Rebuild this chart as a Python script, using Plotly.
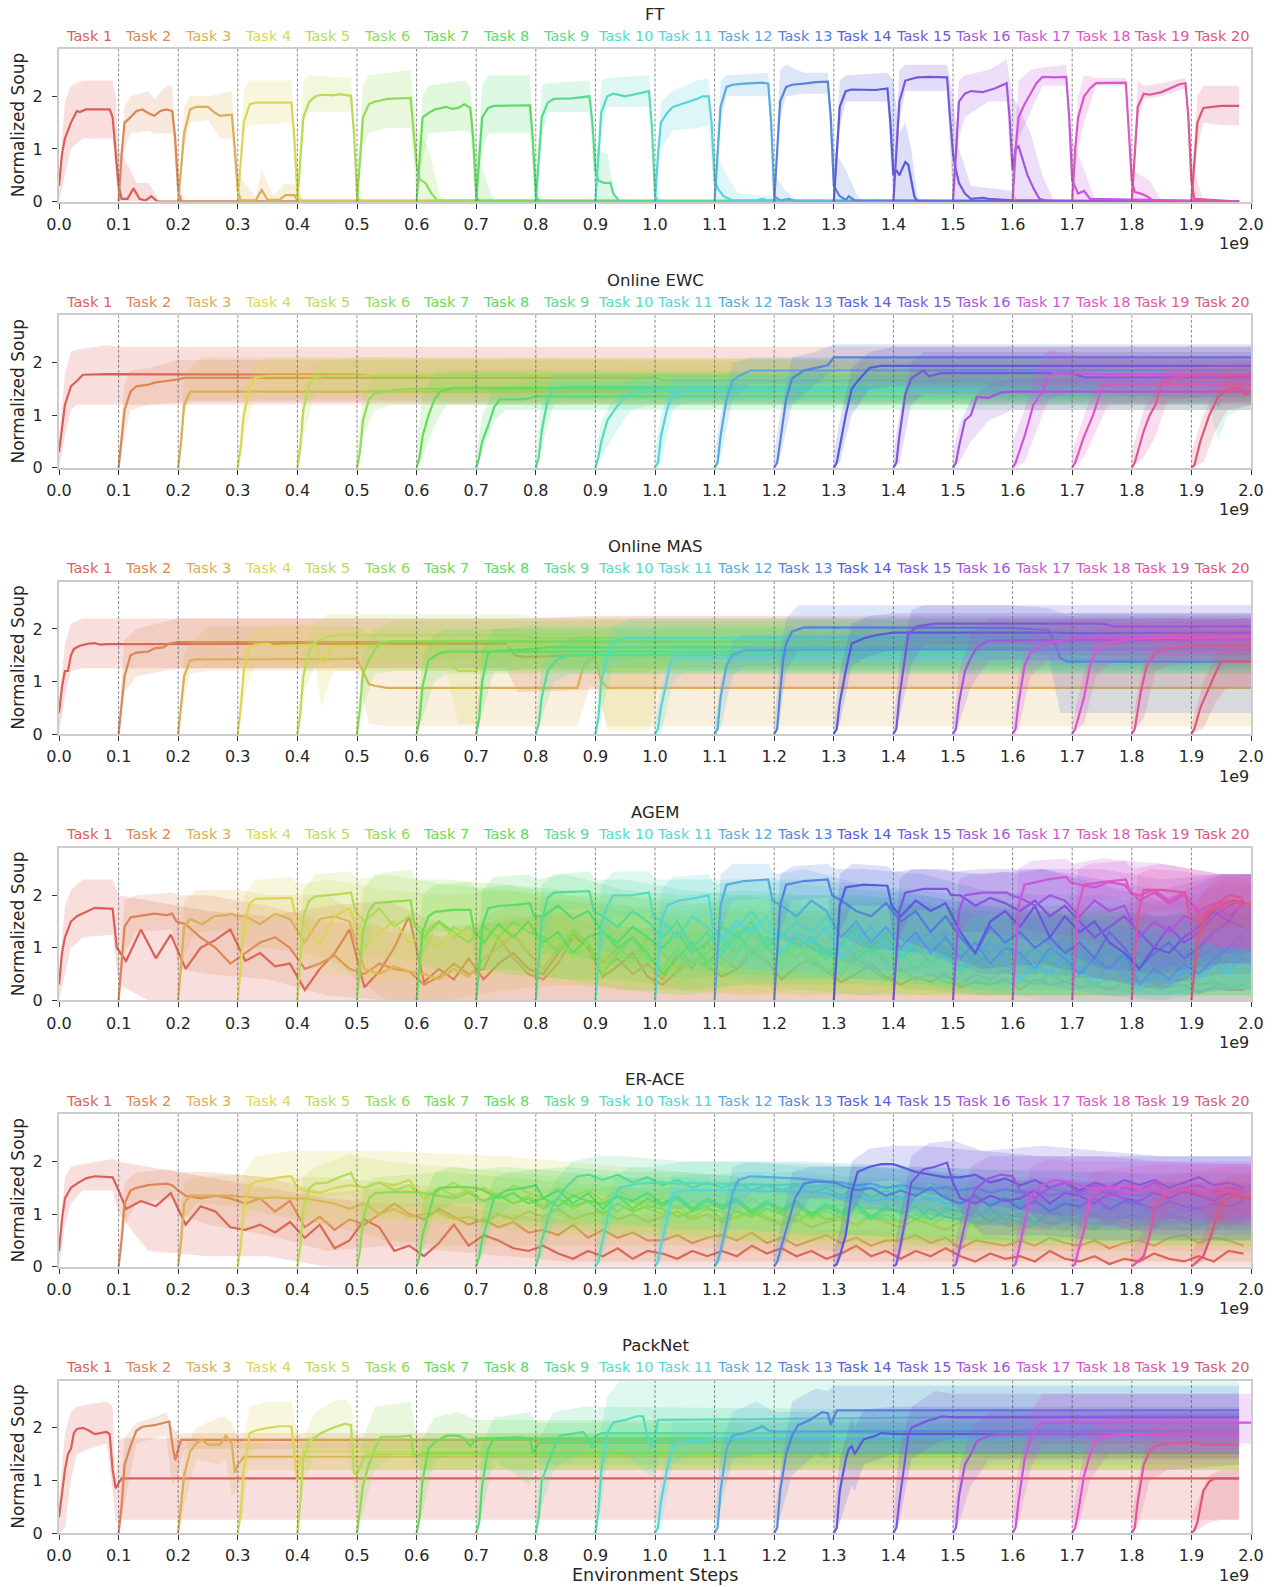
import colorsys
import plotly.graph_objects as go

# ---------------------------------------------------------------- labels
PANEL_TITLES = ["FT", "Online EWC", "Online MAS", "AGEM", "ER-ACE", "PackNet"]
TASK_LABELS = ["Task %d" % i for i in range(1, 21)]
X_TICK_VALUES = [0.0, 0.1, 0.2, 0.3, 0.4, 0.5, 0.6, 0.7, 0.8, 0.9, 1.0,
                 1.1, 1.2, 1.3, 1.4, 1.5, 1.6, 1.7, 1.8, 1.9, 2.0]
X_TICK_LABELS = ["0.0", "0.1", "0.2", "0.3", "0.4", "0.5", "0.6", "0.7", "0.8", "0.9", "1.0",
                 "1.1", "1.2", "1.3", "1.4", "1.5", "1.6", "1.7", "1.8", "1.9", "2.0"]
TASK_BOUNDARIES = [0.1, 0.2, 0.3, 0.4, 0.5, 0.6, 0.7, 0.8, 0.9, 1.0,
                   1.1, 1.2, 1.3, 1.4, 1.5, 1.6, 1.7, 1.8, 1.9]
Y_TICK_VALUES = [0, 1, 2]

# ---------------------------------------------------------------- FT
FT_LINES = [
    [[0,0.3],[0.005,0.9],[0.01,1.2],[0.02,1.5],[0.03,1.72],[0.035,1.7],[0.045,1.75],[0.085,1.75],[0.09,1.6],[0.095,1.0],[0.1,0.3],[0.105,0.05],[0.115,0.05],[0.125,0.25],[0.135,0.05],[0.145,0.02],[0.155,0.1],[0.165,0.0],[1.98,0.0]],
    [[0.1,0],[0.105,0.9],[0.11,1.5],[0.12,1.6],[0.13,1.72],[0.14,1.75],[0.15,1.68],[0.16,1.63],[0.17,1.72],[0.18,1.75],[0.19,1.72],[0.195,1.2],[0.2,0.2],[0.205,0.0],[1.98,0]],
    [[0.2,0],[0.205,0.6],[0.21,1.3],[0.22,1.75],[0.23,1.8],[0.25,1.8],[0.26,1.7],[0.27,1.63],[0.285,1.65],[0.29,1.65],[0.295,1.0],[0.3,0.2],[0.305,0.02],[0.33,0.02],[0.34,0.22],[0.35,0.03],[0.37,0.03],[0.38,0.12],[0.395,0.12],[0.4,0.02],[1.98,0]],
    [[0.3,0],[0.305,0.8],[0.31,1.5],[0.32,1.85],[0.33,1.88],[0.39,1.88],[0.395,1.2],[0.4,0.1],[0.405,0.0],[1.98,0]],
    [[0.4,0],[0.405,0.9],[0.41,1.6],[0.42,1.9],[0.43,2.0],[0.44,2.03],[0.46,2.02],[0.47,2.04],[0.49,2.01],[0.495,1.3],[0.5,0.1],[0.505,0],[1.98,0]],
    [[0.5,0],[0.505,0.8],[0.51,1.6],[0.52,1.85],[0.53,1.9],[0.54,1.92],[0.55,1.95],[0.59,1.97],[0.595,1.4],[0.6,0.7],[0.605,0.42],[0.615,0.35],[0.625,0.15],[0.635,0.02],[1.98,0]],
    [[0.6,0],[0.605,0.8],[0.61,1.6],[0.62,1.68],[0.63,1.75],[0.65,1.8],[0.66,1.76],[0.67,1.78],[0.68,1.85],[0.69,1.78],[0.695,1.2],[0.7,0.1],[0.705,0],[1.98,0]],
    [[0.7,0],[0.705,0.8],[0.71,1.6],[0.72,1.78],[0.73,1.82],[0.79,1.83],[0.795,1.2],[0.8,0.1],[0.805,0],[1.98,0]],
    [[0.8,0],[0.805,0.8],[0.81,1.6],[0.82,1.88],[0.83,1.95],[0.86,1.96],[0.89,2.0],[0.895,1.5],[0.9,0.6],[0.905,0.4],[0.915,0.35],[0.925,0.36],[0.93,0.15],[0.94,0.01],[1.98,0]],
    [[0.9,0],[0.905,0.9],[0.91,1.7],[0.92,2.0],[0.93,2.05],[0.95,2.0],[0.97,2.05],[0.99,2.1],[0.995,1.4],[1.0,0.1],[1.005,0],[1.98,0]],
    [[1.0,0],[1.005,0.9],[1.01,1.5],[1.02,1.68],[1.03,1.8],[1.05,1.87],[1.07,1.95],[1.08,2.0],[1.09,2.0],[1.095,1.5],[1.1,0.4],[1.105,0.25],[1.115,0.1],[1.13,0.02],[1.17,0.02],[1.18,0.05],[1.19,0.02],[1.98,0]],
    [[1.1,0],[1.105,1.0],[1.11,1.8],[1.12,2.18],[1.13,2.22],[1.15,2.24],[1.18,2.26],[1.19,2.24],[1.195,1.5],[1.2,0.1],[1.21,0.02],[1.225,0.05],[1.235,0],[1.98,0]],
    [[1.2,0],[1.205,1.0],[1.21,1.9],[1.22,2.18],[1.23,2.22],[1.25,2.24],[1.27,2.27],[1.29,2.28],[1.295,1.6],[1.3,0.3],[1.31,0.1],[1.32,0.03],[1.325,0.1],[1.335,0.02],[1.98,0]],
    [[1.3,0],[1.305,1.0],[1.31,1.8],[1.32,2.1],[1.33,2.13],[1.37,2.12],[1.39,2.15],[1.395,1.5],[1.4,0.5],[1.405,0.6],[1.41,0.5],[1.42,0.75],[1.425,0.7],[1.435,0.1],[1.44,0],[1.98,0]],
    [[1.4,0],[1.405,1.0],[1.41,1.9],[1.42,2.3],[1.44,2.36],[1.46,2.37],[1.49,2.36],[1.495,1.6],[1.5,0.9],[1.505,0.6],[1.51,0.35],[1.52,0.15],[1.53,0.05],[1.55,0.07],[1.56,0.05],[1.6,0.02],[1.98,0]],
    [[1.5,0],[1.505,1.0],[1.51,1.9],[1.52,2.05],[1.53,2.1],[1.55,2.08],[1.57,2.15],[1.59,2.25],[1.595,1.6],[1.6,0.6],[1.605,1.0],[1.61,1.05],[1.615,0.85],[1.625,0.5],[1.635,0.25],[1.645,0.05],[1.66,0],[1.98,0]],
    [[1.6,0],[1.605,1.0],[1.61,1.6],[1.62,1.85],[1.63,2.05],[1.64,2.25],[1.65,2.37],[1.67,2.36],[1.69,2.37],[1.695,1.6],[1.7,0.4],[1.71,0.15],[1.72,0.2],[1.73,0.05],[1.98,0]],
    [[1.7,0],[1.705,1.0],[1.71,1.6],[1.72,2.0],[1.73,2.15],[1.74,2.25],[1.79,2.26],[1.795,1.4],[1.8,0.4],[1.805,0.18],[1.815,0.15],[1.825,0.1],[1.835,0.02],[1.98,0]],
    [[1.8,0],[1.805,1.0],[1.81,1.8],[1.82,2.05],[1.83,2.03],[1.85,2.08],[1.88,2.23],[1.89,2.25],[1.895,1.6],[1.9,0.4],[1.905,0.05],[1.98,0]],
    [[1.9,0],[1.905,0.8],[1.91,1.5],[1.92,1.78],[1.94,1.8],[1.95,1.82],[1.98,1.82]],
]
FT_BANDS = [
    [[0,0,0.5],[0.01,0.5,1.9],[0.02,1.0,2.2],[0.04,1.2,2.3],[0.09,1.2,2.3],[0.095,0.5,2.0],[0.1,0,1.0],[0.12,0,0.6],[0.13,0,0.35],[0.15,0,0.35],[0.17,0,0]],
    [[0.1,0,0.2],[0.11,1.0,1.8],[0.12,1.3,2.0],[0.15,1.35,2.1],[0.16,1.3,1.95],[0.18,1.3,2.2],[0.19,1.3,2.2],[0.2,0,0.5],[0.21,0,0]],
    [[0.2,0,0.2],[0.21,1.0,1.8],[0.22,1.5,2.0],[0.25,1.55,2.0],[0.27,1.2,2.05],[0.29,1.2,2.1],[0.3,0,0.5],[0.33,0,0.1],[0.34,0,0.6],[0.36,0,0.1],[0.38,0,0.35],[0.4,0,0.3],[0.41,0,0]],
    [[0.3,0,0.2],[0.31,1.3,2.1],[0.32,1.45,2.3],[0.39,1.5,2.3],[0.4,0,0.3],[0.41,0,0]],
    [[0.4,0,0.2],[0.41,1.5,2.3],[0.42,1.7,2.4],[0.49,1.7,2.35],[0.5,0,0.3],[0.51,0,0]],
    [[0.5,0,0.3],[0.51,1.0,2.2],[0.52,1.3,2.4],[0.55,1.4,2.45],[0.59,1.4,2.5],[0.6,0,1.4],[0.62,0,1.0],[0.64,0,0.1],[0.65,0,0]],
    [[0.6,0,0.3],[0.61,0.8,2.0],[0.62,1.3,2.2],[0.68,1.35,2.3],[0.69,1.3,2.2],[0.7,0,1.0],[0.72,0,0.3],[0.73,0,0]],
    [[0.7,0,0.5],[0.71,1.0,2.2],[0.72,1.3,2.4],[0.79,1.3,2.4],[0.8,0,0.5],[0.81,0,0]],
    [[0.8,0,0.3],[0.81,1.2,2.2],[0.82,1.7,2.25],[0.89,1.7,2.3],[0.9,0,1.0],[0.92,0,0.9],[0.93,0,0.3],[0.94,0,0]],
    [[0.9,0,0.3],[0.91,1.4,2.3],[0.92,1.8,2.35],[0.99,1.8,2.4],[1.0,0,0.3],[1.01,0,0]],
    [[1.0,0,0.3],[1.01,1.0,1.9],[1.03,1.35,2.1],[1.07,1.4,2.3],[1.09,1.45,2.35],[1.1,0,1.0],[1.12,0,0.5],[1.14,0,0.15],[1.2,0,0.1],[1.21,0,0]],
    [[1.1,0,0.3],[1.11,1.5,2.3],[1.12,2.0,2.4],[1.19,2.0,2.45],[1.2,0,0.5],[1.22,0,0.2],[1.24,0,0]],
    [[1.2,0,0.3],[1.21,1.6,2.5],[1.22,2.0,2.6],[1.25,2.05,2.45],[1.29,2.05,2.45],[1.3,0,1.0],[1.32,0,0.6],[1.34,0,0.1],[1.35,0,0]],
    [[1.3,0,0.3],[1.31,1.4,2.3],[1.32,1.9,2.4],[1.39,1.9,2.45],[1.4,0,2.3],[1.41,0,1.3],[1.42,0,1.5],[1.43,0,1.0],[1.44,0,0.1],[1.45,0,0]],
    [[1.4,0,0.3],[1.41,1.5,2.5],[1.42,2.1,2.6],[1.49,2.1,2.6],[1.5,0,2.0],[1.51,0,1.0],[1.53,0,0.3],[1.6,0,0.2],[1.61,0,0]],
    [[1.5,0,0.3],[1.51,1.2,2.3],[1.52,1.6,2.4],[1.56,1.9,2.5],[1.59,1.9,2.7],[1.6,0,2.0],[1.61,0,1.8],[1.63,0,1.3],[1.65,0,0.5],[1.67,0,0]],
    [[1.6,0,0.3],[1.61,1.2,2.3],[1.63,1.7,2.5],[1.65,2.2,2.55],[1.69,2.2,2.6],[1.7,0,1.2],[1.72,0,0.6],[1.74,0,0]],
    [[1.7,0,0.3],[1.71,1.0,2.0],[1.72,1.5,2.4],[1.74,2.2,2.35],[1.79,2.2,2.35],[1.8,0,0.6],[1.83,0,0.4],[1.85,0,0]],
    [[1.8,0,0.3],[1.81,1.5,2.3],[1.82,1.95,2.2],[1.85,2.0,2.25],[1.89,2.15,2.35],[1.9,0,0.8],[1.92,0,0]],
    [[1.9,0,0.3],[1.91,1.0,2.0],[1.92,1.5,2.2],[1.95,1.45,2.2],[1.98,1.45,2.2]],
]

# ---------------------------------------------------------------- Online EWC
EWC_LINES = [
    [[0,0.3],[0.005,0.8],[0.01,1.2],[0.02,1.55],[0.03,1.65],[0.04,1.77],[0.08,1.78],[0.5,1.77],[0.52,1.75],[2.0,1.74]],
    [[0.1,0],[0.105,0.5],[0.11,1.1],[0.12,1.45],[0.13,1.55],[0.15,1.58],[0.16,1.62],[0.18,1.65],[0.2,1.68],[0.21,1.71],[1.0,1.71],[1.015,1.66],[2.0,1.66]],
    [[0.2,0],[0.205,0.5],[0.21,1.2],[0.22,1.45],[2.0,1.45]],
    [[0.3,0],[0.305,0.4],[0.31,1.0],[0.32,1.55],[0.33,1.72],[0.35,1.75],[2.0,1.75]],
    [[0.4,0],[0.405,0.4],[0.41,1.1],[0.42,1.6],[0.43,1.72],[0.45,1.75],[2.0,1.76]],
    [[0.5,0],[0.505,0.3],[0.51,0.9],[0.52,1.3],[0.53,1.42],[0.56,1.46],[0.58,1.5],[2.0,1.5]],
    [[0.6,0],[0.605,0.2],[0.61,0.6],[0.62,1.0],[0.63,1.3],[0.64,1.45],[0.66,1.52],[2.0,1.52]],
    [[0.7,0],[0.705,0.2],[0.71,0.5],[0.72,0.8],[0.73,1.15],[0.74,1.3],[0.78,1.3],[0.8,1.36],[2.0,1.36]],
    [[0.8,0],[0.805,0.2],[0.81,0.7],[0.82,1.3],[0.83,1.5],[0.85,1.54],[2.0,1.54]],
    [[0.9,0],[0.905,0.2],[0.91,0.5],[0.92,0.9],[0.935,1.15],[0.95,1.35],[0.97,1.45],[1.0,1.47],[1.93,1.45],[1.945,1.2],[1.955,1.4],[1.97,1.45],[2.0,1.45]],
    [[1.0,0],[1.005,0.1],[1.01,0.6],[1.02,1.1],[1.03,1.4],[1.05,1.47],[2.0,1.47]],
    [[1.1,0],[1.105,0.1],[1.11,0.6],[1.12,1.3],[1.13,1.65],[1.14,1.74],[1.16,1.85],[2.0,1.85]],
    [[1.2,0],[1.205,0.1],[1.21,0.5],[1.22,1.3],[1.23,1.7],[1.25,1.85],[1.27,1.9],[1.29,1.95],[1.3,2.1],[2.0,2.1]],
    [[1.3,0],[1.305,0.1],[1.31,0.4],[1.32,1.0],[1.33,1.5],[1.34,1.65],[1.36,1.9],[1.38,1.94],[2.0,1.94]],
    [[1.4,0],[1.405,0.1],[1.41,0.6],[1.42,1.4],[1.43,1.7],[1.45,1.85],[1.46,1.74],[1.48,1.8],[1.7,1.8],[1.72,1.72],[2.0,1.72]],
    [[1.5,0],[1.505,0.1],[1.51,0.4],[1.52,0.9],[1.53,1.0],[1.54,1.35],[1.56,1.33],[1.58,1.43],[1.6,1.45],[2.0,1.45]],
    [[1.6,0],[1.605,0.1],[1.62,0.6],[1.635,1.2],[1.65,1.45],[1.66,1.75],[1.67,1.8],[1.75,1.78],[2.0,1.78]],
    [[1.7,0],[1.705,0.1],[1.72,0.6],[1.735,1.0],[1.745,1.35],[1.75,1.55],[1.77,1.58],[2.0,1.58]],
    [[1.8,0],[1.805,0.1],[1.82,0.7],[1.83,1.0],[1.84,1.2],[1.85,1.6],[1.87,1.7],[1.9,1.76],[2.0,1.76]],
    [[1.9,0],[1.905,0.05],[1.915,0.5],[1.93,1.0],[1.945,1.35],[1.96,1.5],[1.98,1.52],[1.99,1.38],[2.0,1.48]],
]
EWC_BANDS = [
    [[0,0,0.5],[0.01,0.6,1.8],[0.02,1.1,2.2],[0.03,1.2,2.25],[0.08,1.2,2.33],[0.1,1.2,2.3],[2.0,1.22,2.3]],
    [[0.1,0,0.2],[0.11,0.6,1.6],[0.12,1.1,1.85],[0.15,1.2,1.9],[0.2,1.25,2.05],[2.0,1.25,2.02]],
    [[0.2,0,0.2],[0.21,1.0,1.7],[0.22,1.3,1.9],[0.24,1.3,2.1],[2.0,1.3,2.05]],
    [[0.3,0,0.2],[0.31,0.6,1.5],[0.33,1.4,2.0],[0.35,1.45,2.1],[2.0,1.45,2.05]],
    [[0.4,0,0.2],[0.41,0.6,1.6],[0.43,1.4,2.0],[0.45,1.4,2.05],[0.5,1.4,2.1],[2.0,1.4,2.05]],
    [[0.5,0,0.3],[0.51,0.6,1.4],[0.53,1.1,1.8],[0.56,1.2,1.8],[2.0,1.2,1.8]],
    [[0.6,0,0.4],[0.61,0.2,1.4],[0.63,0.8,1.8],[0.65,1.2,1.85],[2.0,1.2,1.85]],
    [[0.7,0,0.3],[0.71,0.3,1.0],[0.73,0.9,1.5],[0.75,1.1,1.55],[0.8,1.1,1.65],[2.0,1.1,1.65]],
    [[0.8,0,0.3],[0.81,0.4,1.3],[0.83,1.2,1.8],[0.85,1.3,1.8],[2.0,1.3,1.8]],
    [[0.9,0,0.3],[0.91,0.2,0.9],[0.93,0.6,1.3],[0.96,1.1,1.7],[1.0,1.2,1.75],[1.93,1.2,1.75],[1.945,0.5,1.6],[1.96,1.0,1.7],[2.0,1.2,1.7]],
    [[1.0,0,0.3],[1.01,0.1,1.0],[1.03,1.1,1.7],[1.05,1.25,1.7],[2.0,1.25,1.7]],
    [[1.1,0,0.3],[1.11,0.2,1.0],[1.13,1.3,2.0],[1.16,1.6,2.1],[2.0,1.6,2.1]],
    [[1.2,0,0.3],[1.21,0.2,1.0],[1.23,1.2,2.1],[1.27,1.6,2.2],[1.3,1.85,2.35],[2.0,1.85,2.35]],
    [[1.3,0,0.3],[1.31,0.1,0.9],[1.33,1.0,1.9],[1.36,1.5,2.2],[1.4,1.55,2.3],[2.0,1.55,2.3]],
    [[1.4,0,0.3],[1.41,0.1,1.0],[1.43,1.2,2.0],[1.45,1.4,2.2],[2.0,1.35,2.2]],
    [[1.5,0,0.3],[1.51,0.1,0.8],[1.53,0.5,1.3],[1.56,0.9,1.6],[1.6,1.1,1.7],[2.0,1.1,1.75]],
    [[1.6,0,0.5],[1.62,0.1,1.1],[1.64,0.7,1.9],[1.66,1.3,2.25],[1.7,1.45,2.15],[2.0,1.45,2.1]],
    [[1.7,0,0.3],[1.72,0.2,1.0],[1.74,0.7,1.6],[1.76,1.2,1.8],[2.0,1.25,1.85]],
    [[1.8,0,0.3],[1.82,0.2,1.1],[1.84,0.6,1.5],[1.86,1.3,1.9],[2.0,1.4,2.0]],
    [[1.9,0,0.3],[1.92,0.1,1.0],[1.94,0.7,1.5],[1.96,1.1,1.75],[2.0,1.2,1.8]],
]

# ---------------------------------------------------------------- Online MAS
MAS_LINES = [
    [[0,0.4],[0.005,0.9],[0.01,1.2],[0.015,1.2],[0.02,1.5],[0.025,1.62],[0.035,1.68],[0.05,1.72],[0.06,1.73],[0.07,1.7],[0.08,1.71],[0.75,1.72],[0.765,1.5],[0.78,1.47],[0.82,1.48],[0.85,1.5],[2.0,1.52]],
    [[0.1,0],[0.105,0.5],[0.11,1.1],[0.12,1.5],[0.13,1.55],[0.15,1.57],[0.16,1.63],[0.175,1.65],[0.185,1.72],[0.2,1.75],[2.0,1.76]],
    [[0.2,0],[0.205,0.5],[0.21,1.1],[0.22,1.4],[0.23,1.42],[0.5,1.43],[0.51,1.2],[0.52,0.95],[0.53,0.92],[0.55,0.88],[0.87,0.88],[0.88,1.3],[0.89,1.43],[0.9,1.43],[0.91,1.0],[0.92,0.88],[2.0,0.88]],
    [[0.3,0],[0.305,0.5],[0.31,1.2],[0.32,1.65],[0.33,1.7],[0.35,1.72],[0.36,1.68],[0.43,1.7],[0.44,1.4],[0.445,1.35],[0.455,1.6],[0.465,1.68],[0.65,1.68],[0.66,1.3],[0.67,1.2],[0.7,1.2],[0.71,1.45],[0.72,1.68],[0.9,1.7],[0.91,1.35],[0.92,1.2],[0.99,1.2],[1.0,1.55],[1.01,1.68],[2.0,1.7]],
    [[0.4,0],[0.405,0.4],[0.41,1.1],[0.42,1.6],[0.43,1.75],[0.45,1.85],[0.47,1.88],[0.78,1.88],[0.8,1.82],[1.68,1.85],[1.7,1.8],[2.0,1.78]],
    [[0.5,0],[0.505,0.5],[0.51,1.15],[0.52,1.4],[0.53,1.6],[0.54,1.75],[0.56,1.77],[2.0,1.75]],
    [[0.6,0],[0.605,0.3],[0.61,0.9],[0.62,1.4],[0.63,1.48],[0.64,1.55],[0.66,1.57],[2.0,1.57]],
    [[0.7,0],[0.705,0.3],[0.71,1.0],[0.72,1.55],[0.73,1.58],[0.8,1.62],[0.82,1.65],[2.0,1.65]],
    [[0.8,0],[0.805,0.2],[0.81,0.7],[0.82,1.2],[0.83,1.35],[0.84,1.45],[0.86,1.5],[2.0,1.52]],
    [[0.9,0],[0.905,0.3],[0.91,1.0],[0.92,1.5],[0.93,1.7],[0.94,1.8],[0.96,1.83],[2.0,1.85]],
    [[1.0,0],[1.005,0.1],[1.01,0.5],[1.02,1.0],[1.025,1.3],[1.03,1.43],[1.05,1.45],[1.6,1.45],[1.65,1.43],[2.0,1.43]],
    [[1.1,0],[1.105,0.1],[1.11,0.7],[1.12,1.3],[1.13,1.5],[1.15,1.6],[2.0,1.6]],
    [[1.2,0],[1.205,0.1],[1.21,0.8],[1.215,1.4],[1.22,1.72],[1.23,1.95],[1.25,2.03],[1.6,2.02],[1.66,1.98],[1.67,1.75],[1.68,1.45],[1.69,1.38],[2.0,1.38]],
    [[1.3,0],[1.305,0.1],[1.31,0.6],[1.32,1.2],[1.33,1.72],[1.35,1.82],[1.37,1.88],[1.4,1.93],[1.67,1.93],[1.7,1.92],[2.0,1.93]],
    [[1.4,0],[1.405,0.1],[1.41,0.7],[1.42,1.5],[1.425,1.9],[1.44,2.05],[1.47,2.1],[1.75,2.1],[1.77,2.05],[2.0,2.05]],
    [[1.5,0],[1.505,0.1],[1.51,0.6],[1.52,1.2],[1.53,1.45],[1.54,1.65],[1.56,1.78],[2.0,1.8]],
    [[1.6,0],[1.605,0.1],[1.61,0.6],[1.62,1.3],[1.63,1.55],[1.65,1.68],[1.67,1.75],[1.7,1.83],[2.0,1.85]],
    [[1.7,0],[1.705,0.1],[1.72,0.7],[1.73,1.3],[1.74,1.6],[1.76,1.72],[1.8,1.82],[2.0,1.85]],
    [[1.8,0],[1.805,0.1],[1.815,0.8],[1.825,1.3],[1.84,1.55],[1.86,1.63],[1.9,1.68],[2.0,1.68]],
    [[1.9,0],[1.905,0.1],[1.915,0.5],[1.93,0.9],[1.94,1.15],[1.95,1.38],[2.0,1.38]],
]
MAS_BANDS = [
    [[0,0,0.6],[0.01,0.7,1.7],[0.02,1.2,2.1],[0.04,1.25,2.2],[0.75,1.25,2.2],[0.77,0.8,2.2],[0.9,0.85,2.25],[2.0,0.9,2.25]],
    [[0.1,0,0.2],[0.11,0.8,1.8],[0.13,1.1,2.0],[0.2,1.25,2.2],[2.0,1.25,2.2]],
    [[0.2,0,0.2],[0.21,0.7,1.5],[0.22,1.15,1.7],[0.25,1.2,2.05],[0.5,1.2,2.05],[0.52,0.2,1.9],[0.55,0.15,1.7],[0.87,0.15,1.7],[0.89,0.9,1.9],[0.9,0.9,1.9],[0.92,0.15,1.7],[2.0,0.15,1.7]],
    [[0.3,0,0.2],[0.31,0.7,1.6],[0.33,1.35,2.05],[0.43,1.35,2.1],[0.44,0.5,2.0],[0.46,1.2,2.0],[0.65,1.2,2.0],[0.67,0.2,1.8],[0.7,0.2,1.8],[0.72,1.2,2.0],[0.9,1.2,2.0],[0.92,0.05,1.8],[0.99,0.05,1.8],[1.01,1.2,2.1],[2.0,1.25,2.1]],
    [[0.4,0,0.2],[0.41,0.8,1.6],[0.43,1.3,2.1],[0.45,1.4,2.28],[0.78,1.4,2.28],[0.8,1.4,2.2],[2.0,1.4,2.2]],
    [[0.5,0,0.2],[0.51,0.5,1.6],[0.53,1.15,2.0],[0.56,1.2,2.15],[2.0,1.2,2.15]],
    [[0.6,0,0.2],[0.61,0.3,1.5],[0.63,1.0,1.9],[0.65,1.15,2.0],[2.0,1.15,2.0]],
    [[0.7,0,0.2],[0.71,0.4,1.6],[0.73,1.2,2.0],[0.8,1.25,2.05],[2.0,1.25,2.05]],
    [[0.8,0,0.2],[0.81,0.3,1.3],[0.83,1.0,1.7],[0.86,1.15,1.85],[2.0,1.15,1.9]],
    [[0.9,0,0.2],[0.91,0.4,1.5],[0.93,1.3,2.05],[0.96,1.45,2.2],[2.0,1.45,2.2]],
    [[1.0,0,0.2],[1.01,0.0,0.9],[1.03,1.0,1.7],[1.05,1.2,1.7],[2.0,1.2,1.7]],
    [[1.1,0,0.2],[1.11,0.1,1.0],[1.13,1.1,1.8],[1.15,1.3,1.9],[2.0,1.3,1.9]],
    [[1.2,0,0.2],[1.21,0.3,1.5],[1.22,1.2,2.2],[1.24,1.6,2.45],[1.6,1.6,2.45],[1.66,1.5,2.4],[1.68,0.4,2.3],[2.0,0.4,2.3]],
    [[1.3,0,0.2],[1.31,0.2,1.2],[1.33,1.3,2.1],[1.36,1.5,2.25],[1.4,1.6,2.3],[2.0,1.6,2.3]],
    [[1.4,0,0.2],[1.41,0.3,1.3],[1.43,1.3,2.35],[1.45,1.7,2.45],[2.0,1.7,2.45]],
    [[1.5,0,0.2],[1.51,0.2,1.2],[1.53,0.9,1.9],[1.56,1.4,2.2],[2.0,1.4,2.2]],
    [[1.6,0,0.2],[1.61,0.1,1.1],[1.63,1.1,2.0],[1.66,1.4,2.1],[1.7,1.5,2.2],[2.0,1.5,2.2]],
    [[1.7,0,0.2],[1.72,0.2,1.2],[1.74,1.1,2.0],[1.77,1.4,2.1],[2.0,1.5,2.2]],
    [[1.8,0,0.2],[1.82,0.3,1.4],[1.84,1.2,1.9],[1.87,1.35,2.0],[2.0,1.4,2.0]],
    [[1.9,0,0.2],[1.92,0.1,1.0],[1.94,0.6,1.5],[1.96,0.9,1.7],[2.0,0.9,1.75]],
]

# ---------------------------------------------------------------- AGEM
AGEM_TRAIN = [
    [[0,0.3],[0.005,0.9],[0.01,1.2],[0.02,1.5],[0.03,1.6],[0.045,1.68],[0.06,1.76],[0.09,1.74],[0.097,1.0]],
    [[0.1,0],[0.105,0.8],[0.11,1.4],[0.12,1.58],[0.14,1.62],[0.16,1.65],[0.18,1.62],[0.19,1.65],[0.197,1.5]],
    [[0.2,0],[0.205,0.8],[0.21,1.4],[0.22,1.55],[0.24,1.45],[0.26,1.6],[0.28,1.62],[0.29,1.65],[0.297,1.6]],
    [[0.3,0],[0.305,0.6],[0.31,1.4],[0.32,1.85],[0.33,1.93],[0.39,1.95],[0.397,1.6]],
    [[0.4,0],[0.405,0.8],[0.41,1.6],[0.42,1.9],[0.43,1.98],[0.47,2.02],[0.49,2.05],[0.497,1.7]],
    [[0.5,0],[0.505,0.6],[0.51,1.3],[0.52,1.7],[0.53,1.85],[0.56,1.88],[0.59,1.9],[0.597,1.4]],
    [[0.6,0],[0.605,0.6],[0.61,1.3],[0.62,1.6],[0.63,1.68],[0.66,1.72],[0.69,1.72],[0.697,1.3]],
    [[0.7,0],[0.705,0.6],[0.71,1.4],[0.72,1.75],[0.74,1.8],[0.77,1.82],[0.79,1.85],[0.797,1.6]],
    [[0.8,0],[0.805,0.7],[0.81,1.5],[0.82,1.95],[0.83,2.05],[0.89,2.08],[0.897,1.7]],
    [[0.9,0],[0.905,0.8],[0.91,1.45],[0.92,1.8],[0.93,2.0],[0.96,2.0],[0.99,2.05],[0.997,1.6]],
    [[1.0,0],[1.005,0.8],[1.01,1.5],[1.02,1.8],[1.04,1.9],[1.07,1.95],[1.09,2.0],[1.097,1.4]],
    [[1.1,0],[1.105,0.9],[1.11,1.8],[1.12,2.2],[1.15,2.27],[1.19,2.3],[1.197,1.9]],
    [[1.2,0],[1.205,0.9],[1.21,1.8],[1.22,2.2],[1.25,2.27],[1.29,2.3],[1.297,2.0]],
    [[1.3,0],[1.305,0.9],[1.31,1.8],[1.32,2.15],[1.35,2.2],[1.39,2.18],[1.397,1.8]],
    [[1.4,0],[1.405,0.9],[1.41,1.7],[1.42,2.05],[1.45,2.12],[1.49,2.12],[1.497,2.0]],
    [[1.5,0],[1.505,0.9],[1.51,1.7],[1.52,2.0],[1.55,2.05],[1.59,2.05],[1.597,2.0]],
    [[1.6,0],[1.605,0.9],[1.61,1.8],[1.62,2.2],[1.66,2.3],[1.69,2.35],[1.697,2.25]],
    [[1.7,0],[1.705,0.9],[1.71,1.8],[1.72,2.2],[1.75,2.25],[1.79,2.3],[1.797,2.05]],
    [[1.8,0],[1.805,0.8],[1.81,1.6],[1.82,2.1],[1.85,2.1],[1.89,2.05],[1.897,1.6]],
    [[1.9,0],[1.905,0.5],[1.91,1.1],[1.92,1.5],[1.93,1.7],[1.95,1.8],[1.97,1.9],[2.0,1.82]],
]
# values after each task's own window, every 0.025e9 from 0.0125e9 after it ends
AGEM_TAIL = [
    [0.75,1.35,0.8,1.25, 0.6,1.0,1.15,1.35, 0.75,0.9,0.65,0.7, 0.2,0.6,0.9,1.35, 0.25,0.55,1.0,1.6, 0.35,0.6,0.4,0.8,
     0.4,0.7,0.9,0.6, 0.5,0.9,1.25,1.0, 0.45,0.65,0.9,0.45, 0.3,0.55,0.8,0.65, 0.45,0.6,0.9,0.75, 0.4,0.65,0.8,0.55,
     0.35,0.5,0.7,0.45, 0.3,0.45,0.35,0.5, 0.25,0.35,0.3,0.4, 0.2,0.4,0.3,0.35, 0.25,0.3,0.2,0.35, 0.2,0.3,0.25,0.3, 0.15,0.25,0.2,0.2],
    [1.45,1.2,1.0,0.7, 0.9,1.1,1.2,1.0, 0.6,0.7,0.85,0.6, 0.5,0.7,0.6,0.55, 0.3,0.45,0.7,0.5, 0.6,1.2,0.8,0.5,
     0.4,0.7,1.2,0.9, 0.6,0.8,0.5,0.7, 0.4,0.9,0.6,1.1, 0.8,0.6,1.0,0.7, 0.9,1.1,0.7,0.6, 0.5,0.8,0.6,0.4,
     0.6,0.4,0.5,0.35, 0.3,0.5,0.4,0.6, 0.4,0.3,0.5,0.35, 0.45,0.3,0.4,0.5, 0.3,0.45,0.35,0.4, 0.3,0.35,0.25,0.3],
    [1.6,1.45,1.65,1.55, 1.1,1.55,1.6,1.5, 0.6,0.5,0.65,0.55, 0.5,0.4,0.6,0.45, 0.8,1.0,1.25,0.9, 0.6,1.0,1.35,1.1,
     0.7,1.0,0.8,1.2, 0.9,0.6,1.0,0.8, 0.7,1.1,0.9,1.2, 1.0,0.8,1.1,0.9, 0.7,1.0,1.2,0.8, 0.9,1.2,0.7,1.0,
     0.6,0.9,1.1,0.8, 0.7,1.0,0.8,1.2, 1.0,0.7,0.9,0.6, 0.8,1.1,0.9,0.7, 1.0,0.8,1.1,1.2],
    [1.45,1.05,1.6,1.75, 1.0,1.3,1.5,1.1, 1.2,1.0,1.4,1.2, 1.3,1.1,1.45,1.3, 1.1,1.5,1.2,0.9, 0.8,1.2,1.4,1.0,
     1.2,0.9,1.3,0.8, 0.5,0.9,1.1,0.8, 0.6,1.0,0.8,0.7, 0.9,1.2,0.8,1.1, 0.7,0.9,1.1,0.8, 1.0,0.7,1.2,0.9,
     0.8,1.1,0.9,1.3, 1.0,1.2,0.8,1.0, 0.9,1.3,1.1,0.8, 1.0,1.2,1.4,1.1],
    [1.5,1.75,1.4,1.6, 1.3,1.5,1.2,1.4, 1.1,1.4,1.2,1.5, 1.0,1.2,0.8,1.1, 0.6,0.9,0.7,1.0, 0.7,0.5,0.8,0.6,
     0.9,1.2,0.8,1.0, 0.7,1.0,0.9,0.6, 0.8,0.6,1.0,0.7, 0.5,0.8,0.6,0.9, 0.7,0.5,0.8,0.6, 0.9,0.6,0.7,1.0,
     0.6,0.8,1.1,0.7, 0.9,0.6,0.8,1.0, 0.7,0.9,0.6,0.8],
    [1.2,1.5,1.3,1.1, 1.4,1.2,1.5,1.3, 1.2,0.9,1.3,1.1, 0.5,0.9,1.2,0.8, 0.6,1.0,0.7,0.9, 1.2,0.9,1.3,1.0,
     0.8,1.1,0.7,1.0, 0.6,0.9,1.1,0.7, 0.9,0.6,0.8,1.0, 0.5,0.8,0.6,0.9, 0.7,1.0,0.8,0.5, 0.8,0.6,0.9,0.7,
     0.5,0.8,0.6,0.9, 0.7,0.5,0.8,0.9],
    [1.1,1.45,1.2,1.5, 1.1,1.3,0.9,1.2, 1.3,1.0,1.2,0.9, 0.5,0.8,1.1,0.7, 1.0,1.3,0.9,1.2, 0.9,1.2,1.0,0.8,
     1.1,0.8,1.0,1.3, 0.8,1.0,0.7,0.9, 0.6,0.9,0.7,1.0, 0.8,0.5,0.9,0.7, 1.0,0.7,0.6,0.9, 0.7,1.0,0.8,0.6,
     0.9,0.7,1.0,0.8],
    [1.6,1.8,1.55,1.7, 1.3,1.1,1.4,1.2, 1.0,1.3,0.9,1.1, 1.4,1.2,1.5,1.0, 1.3,1.0,1.2,0.9, 1.1,1.4,1.0,1.2,
     0.9,1.2,1.0,0.8, 1.0,0.7,0.9,1.1, 0.8,1.0,0.7,0.6, 0.9,0.7,1.0,0.8, 0.6,0.9,0.7,1.0, 0.8,1.0,0.9,1.2],
    [1.6,1.4,1.7,1.5, 1.2,1.5,1.0,1.3, 0.9,1.2,1.4,1.1, 1.3,1.0,1.2,0.8, 1.0,1.3,0.9,1.1, 0.8,1.1,1.3,0.9,
     0.6,0.9,0.7,1.0, 0.8,0.6,0.9,0.7, 0.5,0.8,1.0,0.7, 0.9,0.6,0.8,0.5, 0.7,0.9,0.6,0.8],
    [1.5,1.2,1.6,1.4, 1.1,1.4,1.7,1.3, 1.2,1.5,1.3,1.6, 1.0,1.3,1.1,1.4, 1.2,0.9,1.1,1.3, 0.8,1.1,0.9,1.2,
     0.7,1.0,0.8,1.1, 0.9,0.6,1.0,0.8, 0.5,0.8,0.6,0.9, 0.8,1.1,0.9,1.0],
    [1.2,1.5,1.3,1.6, 0.9,1.3,1.1,1.4, 0.8,1.1,1.4,1.0, 0.9,1.2,1.0,0.8, 0.6,0.9,1.1,0.7, 0.4,0.7,0.5,0.9,
     0.6,0.3,0.7,0.5, 0.2,0.5,0.3,0.6, 0.4,0.7,0.5,1.2],
    [1.8,1.6,1.9,1.7, 1.2,1.5,1.1,1.4, 1.0,1.3,0.9,1.2, 0.8,1.1,0.7,1.0, 0.9,0.6,1.0,0.8, 0.5,0.8,0.6,0.9,
     0.3,0.6,0.4,0.7, 0.5,0.8,1.0,1.3],
    [1.9,1.7,1.6,1.85, 1.5,1.7,1.3,1.6, 1.2,0.9,1.4,1.1, 1.3,1.0,1.2,0.9, 1.1,0.8,1.3,1.0, 0.6,0.9,1.1,0.8,
     1.0,1.3,1.5,1.4],
    [1.6,1.9,1.7,1.85, 1.3,0.9,1.5,1.7, 1.4,1.8,1.2,1.6, 1.3,1.5,1.1,0.9, 0.6,1.0,0.9,1.2, 1.4,1.7,1.5,1.9],
    [2.0,1.8,1.95,1.85, 1.7,1.9,1.6,1.8, 1.5,1.2,1.4,1.6, 1.3,1.0,1.4,1.1, 1.3,1.6,1.8,1.9],
    [1.95,1.8,2.0,1.9, 1.6,1.9,1.7,1.8, 1.2,1.5,1.3,1.6, 1.5,1.8,1.6,1.85],
    [2.2,2.15,2.25,2.2, 1.9,2.05,1.85,2.0, 1.7,1.85,1.75,1.8],
    [2.0,2.1,1.9,2.05, 1.6,1.8,1.9,1.85],
    [1.5,1.8,2.0,1.95],
    [],
]
AGEM_TRAIN_BANDS = [
    [[0,0,0.5],[0.01,0.5,1.8],[0.02,1.0,2.1],[0.04,1.2,2.3],[0.09,1.25,2.3],[0.1,0.3,2.0]],
    [[0.1,0,0.3],[0.11,0.9,1.9],[0.13,1.3,2.0],[0.19,1.35,2.05],[0.2,0.6,2.0]],
    [[0.2,0,0.3],[0.21,0.9,1.9],[0.23,1.3,2.1],[0.29,1.35,2.1],[0.3,1.0,2.1]],
    [[0.3,0,0.3],[0.31,1.0,2.0],[0.33,1.6,2.3],[0.39,1.6,2.35],[0.4,0.8,2.2]],
    [[0.4,0,0.3],[0.41,1.0,2.1],[0.43,1.6,2.4],[0.49,1.6,2.45],[0.5,0.9,2.3]],
    [[0.5,0,0.3],[0.51,0.8,2.1],[0.53,1.4,2.4],[0.59,1.5,2.5],[0.6,0.7,2.3]],
    [[0.6,0,0.3],[0.61,0.8,2.0],[0.63,1.3,2.2],[0.69,1.35,2.25],[0.7,0.6,2.1]],
    [[0.7,0,0.3],[0.71,0.9,2.1],[0.73,1.4,2.35],[0.79,1.45,2.4],[0.8,0.9,2.3]],
    [[0.8,0,0.3],[0.81,1.0,2.2],[0.83,1.7,2.4],[0.89,1.75,2.45],[0.9,1.0,2.3]],
    [[0.9,0,0.3],[0.91,1.0,2.2],[0.93,1.6,2.45],[0.99,1.65,2.45],[1.0,0.9,2.3]],
    [[1.0,0,0.3],[1.01,1.0,2.1],[1.03,1.5,2.35],[1.09,1.6,2.4],[1.1,0.8,2.2]],
    [[1.1,0,0.3],[1.11,1.3,2.4],[1.13,1.9,2.6],[1.19,1.95,2.6],[1.2,1.2,2.4]],
    [[1.2,0,0.3],[1.21,1.3,2.4],[1.23,1.9,2.55],[1.29,1.95,2.6],[1.3,1.3,2.5]],
    [[1.3,0,0.3],[1.31,1.3,2.4],[1.33,1.8,2.6],[1.39,1.8,2.55],[1.4,1.2,2.45]],
    [[1.4,0,0.3],[1.41,1.2,2.3],[1.43,1.7,2.5],[1.49,1.75,2.5],[1.5,1.3,2.45]],
    [[1.5,0,0.3],[1.51,1.2,2.3],[1.53,1.6,2.4],[1.59,1.65,2.45],[1.6,1.4,2.4]],
    [[1.6,0,0.3],[1.61,1.3,2.5],[1.63,1.9,2.65],[1.69,2.0,2.7],[1.7,1.7,2.6]],
    [[1.7,0,0.3],[1.71,1.3,2.5],[1.73,1.9,2.6],[1.79,1.95,2.65],[1.8,1.5,2.5]],
    [[1.8,0,0.3],[1.81,1.2,2.4],[1.83,1.7,2.5],[1.89,1.7,2.45],[1.9,1.2,2.4]],
    [[1.9,0,0.3],[1.91,0.7,1.9],[1.93,1.3,2.2],[1.96,1.4,2.35],[2.0,1.35,2.3]],
]
# [low, high] every 0.1e9 starting 0.05e9 after each task's own window
AGEM_TAIL_BANDS = [
    [[0.0,1.9],[0.0,1.7],[0.0,1.6],[0.0,1.8],[0.0,1.9],[0.0,1.4],[0.0,1.5],[0.0,1.7],[0.0,1.4],[0.0,1.3],[0,1.4],[0,1.2],[0,1.1],[0,0.9],[0,0.8],[0,0.8],[0,0.7],[0,0.7],[0,0.6]],
    [[0.5,2.0],[0.4,1.8],[0.1,1.5],[0.0,1.4],[0.0,1.2],[0.0,1.6],[0.0,1.6],[0,1.3],[0,1.5],[0,1.5],[0,1.6],[0,1.3],[0,1.1],[0,1.0],[0,0.9],[0,0.9],[0,0.8],[0,0.8]],
    [[1.0,2.0],[0.8,2.0],[0.0,1.3],[0.0,1.2],[0.2,1.8],[0.3,1.9],[0.2,1.8],[0.2,1.6],[0.1,1.7],[0.2,1.7],[0.1,1.7],[0.2,1.8],[0.1,1.6],[0.1,1.7],[0.1,1.6],[0.1,1.6],[0.2,1.8]],
    [[0.5,2.3],[0.4,2.1],[0.4,2.0],[0.5,2.1],[0.3,2.0],[0.3,2.0],[0.2,1.9],[0.1,1.7],[0.1,1.7],[0.2,1.8],[0.1,1.8],[0.2,1.8],[0.2,1.8],[0.2,1.8],[0.2,1.9],[0.3,1.9]],
    [[0.8,2.4],[0.7,2.2],[0.6,2.1],[0.4,1.9],[0.2,1.7],[0.1,1.5],[0.2,1.8],[0.1,1.7],[0.1,1.6],[0.1,1.5],[0.1,1.5],[0.1,1.6],[0.1,1.6],[0.1,1.6],[0.1,1.6]],
    [[0.5,2.3],[0.6,2.2],[0.4,2.0],[0.2,1.8],[0.1,1.7],[0.3,2.0],[0.2,1.8],[0.1,1.7],[0.1,1.7],[0.1,1.6],[0.1,1.6],[0.1,1.6],[0.1,1.6],[0.1,1.6]],
    [[0.5,2.2],[0.4,2.1],[0.4,2.0],[0.2,1.8],[0.3,2.0],[0.3,1.9],[0.3,1.9],[0.2,1.8],[0.1,1.7],[0.1,1.6],[0.1,1.7],[0.1,1.6],[0.1,1.7]],
    [[0.9,2.4],[0.6,2.1],[0.4,2.0],[0.5,2.1],[0.4,2.0],[0.4,2.0],[0.3,1.8],[0.2,1.7],[0.2,1.7],[0.2,1.7],[0.1,1.6],[0.2,1.8]],
    [[0.8,2.3],[0.6,2.1],[0.4,2.0],[0.4,2.0],[0.4,2.0],[0.3,1.9],[0.1,1.6],[0.1,1.6],[0.1,1.6],[0.1,1.6],[0.1,1.6]],
    [[0.7,2.3],[0.6,2.3],[0.6,2.3],[0.5,2.2],[0.4,2.1],[0.3,1.9],[0.2,1.8],[0.2,1.8],[0.1,1.6],[0.2,1.8]],
    [[0.6,2.3],[0.5,2.2],[0.4,2.1],[0.4,2.0],[0.2,1.8],[0.0,1.6],[0.0,1.4],[0.0,1.2],[0.0,1.6]],
    [[1.0,2.5],[0.6,2.2],[0.5,2.0],[0.3,1.8],[0.3,1.7],[0.1,1.5],[0.0,1.3],[0.2,1.8]],
    [[1.0,2.5],[0.9,2.4],[0.5,2.1],[0.5,2.0],[0.4,2.0],[0.3,1.8],[0.5,2.2]],
    [[1.0,2.5],[0.6,2.4],[0.7,2.5],[0.4,2.2],[0.2,1.9],[0.7,2.4]],
    [[1.3,2.5],[1.1,2.5],[0.6,2.3],[0.5,2.1],[0.7,2.4]],
    [[1.3,2.5],[1.1,2.5],[0.6,2.3],[0.9,2.4]],
    [[1.6,2.7],[1.2,2.6],[1.0,2.4]],
    [[1.4,2.6],[1.0,2.4]],
    [[1.0,2.4]],
    [],
]

# ---------------------------------------------------------------- ER-ACE
ER_TRAIN = [
    [[0,0.3],[0.005,0.9],[0.01,1.3],[0.02,1.5],[0.03,1.58],[0.045,1.68],[0.06,1.72],[0.09,1.7],[0.1,1.45]],
    [[0.1,0],[0.105,0.5],[0.11,1.2],[0.12,1.45],[0.13,1.5],[0.15,1.55],[0.18,1.58],[0.19,1.55],[0.2,1.45]],
    [[0.2,0],[0.205,0.5],[0.21,1.2],[0.22,1.35],[0.25,1.35],[0.29,1.35],[0.3,1.33]],
    [[0.3,0],[0.305,0.4],[0.31,1.1],[0.32,1.55],[0.33,1.62],[0.35,1.65],[0.37,1.7],[0.39,1.72],[0.4,1.5]],
    [[0.4,0],[0.405,0.4],[0.41,1.1],[0.42,1.5],[0.43,1.58],[0.45,1.6],[0.47,1.7],[0.49,1.78],[0.5,1.55]],
    [[0.5,0],[0.505,0.3],[0.51,0.9],[0.52,1.3],[0.53,1.4],[0.56,1.42],[0.6,1.42]],
    [[0.6,0],[0.605,0.2],[0.61,0.6],[0.62,1.0],[0.63,1.4],[0.64,1.5],[0.67,1.52],[0.7,1.5]],
    [[0.7,0],[0.705,0.2],[0.71,0.5],[0.72,0.9],[0.73,1.3],[0.75,1.45],[0.78,1.5],[0.8,1.55]],
    [[0.8,0],[0.805,0.2],[0.81,0.5],[0.82,0.9],[0.83,1.2],[0.85,1.5],[0.87,1.72],[0.89,1.75],[0.9,1.7]],
    [[0.9,0],[0.905,0.1],[0.91,0.4],[0.92,0.9],[0.93,1.3],[0.94,1.5],[0.97,1.58],[1.0,1.6]],
    [[1.0,0],[1.005,0.1],[1.01,0.4],[1.02,0.9],[1.03,1.4],[1.05,1.45],[1.1,1.45]],
    [[1.1,0],[1.105,0.1],[1.11,0.3],[1.12,0.8],[1.13,1.4],[1.14,1.65],[1.16,1.72],[1.2,1.7]],
    [[1.2,0],[1.205,0.1],[1.21,0.3],[1.22,0.7],[1.235,1.3],[1.25,1.58],[1.27,1.62],[1.3,1.6]],
    [[1.3,0],[1.305,0.05],[1.31,0.2],[1.32,0.6],[1.33,1.4],[1.34,1.8],[1.36,1.9],[1.38,1.95],[1.4,1.95]],
    [[1.4,0],[1.405,0.05],[1.41,0.3],[1.42,0.9],[1.43,1.6],[1.45,1.85],[1.47,1.9],[1.49,1.98],[1.5,1.6]],
    [[1.5,0],[1.505,0.05],[1.51,0.3],[1.52,0.8],[1.53,1.3],[1.54,1.5],[1.56,1.68],[1.58,1.75],[1.6,1.72]],
    [[1.6,0],[1.605,0.05],[1.61,0.3],[1.62,0.8],[1.63,1.35],[1.65,1.55],[1.67,1.65],[1.7,1.6]],
    [[1.7,0],[1.705,0.05],[1.71,0.3],[1.72,0.7],[1.73,1.3],[1.75,1.5],[1.78,1.52],[1.8,1.55]],
    [[1.8,0],[1.805,0.05],[1.82,0.2],[1.83,0.6],[1.84,1.2],[1.86,1.4],[1.88,1.45],[1.9,1.45]],
    [[1.9,0],[1.905,0.05],[1.92,0.2],[1.93,0.5],[1.95,1.2],[1.97,1.35],[2.0,1.3]],
]
ER_TAIL = [
    [1.1,1.25,1.15,1.4, 0.8,1.15,1.05,0.75, 0.7,0.8,0.65,0.85, 0.55,0.8,0.35,0.5, 0.9,0.75,0.3,0.4, 0.2,0.45,0.8,0.4,
     0.6,0.5,0.35,0.3, 0.4,0.25,0.15,0.3, 0.2,0.35,0.15,0.3, 0.25,0.15,0.3,0.2, 0.3,0.2,0.4,0.25, 0.35,0.2,0.3,0.15,
     0.25,0.4,0.2,0.3, 0.15,0.3,0.2,0.35, 0.2,0.1,0.25,0.15, 0.2,0.1,0.3,0.15, 0.1,0.2,0.05,0.15, 0.1,0.25,0.15,0.1, 0.2,0.1,0.3,0.25],
    [1.35,1.3,1.35,1.3, 1.2,1.3,1.05,1.25, 0.75,0.95,0.7,0.9, 0.8,1.0,1.2,1.0, 0.9,1.1,0.95,0.8, 0.9,0.75,0.85,0.65,
     0.7,0.6,0.8,0.55, 0.7,0.55,0.65,0.5, 0.5,0.6,0.45,0.55, 0.6,0.5,0.65,0.45, 0.55,0.4,0.5,0.6, 0.45,0.55,0.4,0.5,
     0.5,0.6,0.45,0.55, 0.35,0.5,0.45,0.4, 0.5,0.4,0.55,0.45, 0.4,0.5,0.35,0.45, 0.5,0.4,0.55,0.6, 0.45,0.55,0.5,0.4],
    [1.33,1.3,1.32,1.3, 1.3,1.25,1.2,1.1, 1.2,1.0,1.1,0.95, 1.0,1.05,0.9,0.95, 0.85,1.0,0.9,1.05, 0.95,1.1,0.9,1.0,
     1.05,0.9,1.0,0.85, 0.95,1.05,0.9,1.0, 0.85,0.95,1.05,0.9, 0.8,0.9,0.75,0.85, 0.9,0.8,0.95,0.85, 0.75,0.9,0.8,0.7,
     0.85,0.75,0.9,0.8, 0.7,0.8,0.75,0.9, 0.8,0.7,0.85,0.75, 0.9,0.75,0.8,0.7, 0.8,0.9,0.75,0.85],
    [1.45,1.4,1.5,1.55, 1.5,1.6,1.55,1.65, 1.3,1.45,1.6,1.4, 1.5,1.35,1.55,1.4, 1.3,1.5,1.35,1.45, 1.25,1.45,1.3,1.2,
     1.3,1.1,1.25,1.15, 1.2,1.05,1.3,1.1, 1.0,1.15,0.95,1.1, 1.2,1.0,1.15,1.05, 1.1,1.25,1.0,1.15, 1.0,1.1,0.9,1.05,
     1.15,1.0,1.2,0.95, 1.05,1.15,1.0,1.1, 0.95,1.1,1.0,1.15, 1.05,0.9,1.1,1.0],
    [1.5,1.6,1.45,1.55, 1.3,1.5,1.35,1.45, 1.25,1.4,1.2,1.35, 1.15,1.3,1.1,1.25, 1.2,1.05,1.25,1.1, 1.0,1.15,0.95,1.1,
     1.05,0.9,1.1,0.95, 0.85,1.0,0.9,1.05, 0.95,0.8,1.0,0.9, 0.85,1.0,0.8,0.95, 0.9,0.75,0.95,0.85, 0.8,0.95,0.85,0.7,
     0.9,0.8,0.95,0.85, 0.75,0.9,0.8,0.95, 0.85,0.7,0.9,0.8],
    [1.4,1.35,1.3,1.4, 1.25,1.35,1.2,1.3, 1.1,1.3,1.15,1.25, 1.0,1.2,1.05,1.15, 1.1,0.95,1.05,1.15, 0.9,1.05,0.95,1.1,
     1.0,0.85,1.05,0.9, 0.95,1.1,0.9,1.0, 0.85,1.0,0.9,1.05, 0.95,0.8,1.0,0.9, 0.85,1.0,0.8,0.95, 0.9,0.75,0.95,0.85,
     0.8,0.95,0.85,0.9, 0.75,0.9,0.8,0.85],
    [1.45,1.3,1.4,1.2, 1.3,1.15,1.35,1.25, 1.2,1.35,1.1,1.3, 1.15,1.3,1.05,1.25, 1.1,1.25,1.0,1.2, 1.05,1.2,0.95,1.15,
     1.0,1.15,0.9,1.1, 1.05,0.9,1.1,0.95, 0.9,1.05,0.85,1.0, 0.95,0.8,1.0,0.9, 0.85,1.0,0.8,0.95, 0.9,0.75,0.95,0.85,
     0.8,0.95,0.85,0.9],
    [1.3,1.45,1.2,1.4, 1.1,1.35,1.25,1.4, 1.2,1.35,1.1,1.3, 1.15,1.3,1.05,1.25, 1.1,1.25,1.0,1.2, 1.05,1.2,0.95,1.15,
     1.0,1.15,0.9,1.1, 1.05,0.95,1.1,0.9, 1.0,0.85,1.05,0.95, 0.9,1.05,0.85,1.0, 0.95,0.8,1.0,0.9, 0.85,1.0,0.9,0.95],
    [1.65,1.75,1.6,1.7, 1.55,1.65,1.5,1.6, 1.5,1.6,1.45,1.55, 1.45,1.55,1.4,1.5, 1.35,1.5,1.3,1.45, 1.3,1.4,1.25,1.35,
     1.2,1.35,1.15,1.3, 1.15,1.3,1.1,1.25, 1.1,1.25,1.05,1.2, 1.15,1.0,1.2,1.05, 1.1,1.2,1.0,1.15],
    [1.6,1.58,1.6,1.57, 1.58,1.55,1.57,1.55, 1.55,1.57,1.52,1.55, 1.5,1.55,1.48,1.52, 1.5,1.45,1.52,1.48, 1.45,1.5,1.42,1.48,
     1.45,1.4,1.48,1.42, 1.4,1.45,1.38,1.42, 1.45,1.4,1.48,1.42, 1.4,1.45,1.5,1.45],
    [1.45,1.44,1.45,1.43, 1.44,1.42,1.43,1.4, 1.3,1.35,1.25,1.3, 1.3,1.25,1.32,1.2, 1.25,1.3,1.2,1.28, 1.2,1.3,1.15,1.25,
     1.25,1.15,1.3,1.2, 1.2,1.3,1.25,1.15, 1.25,1.2,1.3,1.25],
    [1.7,1.68,1.65,1.62, 1.6,1.55,1.58,1.5, 1.55,1.5,1.45,1.52, 1.45,1.5,1.4,1.48, 1.4,1.45,1.35,1.42, 1.4,1.35,1.45,1.38,
     1.35,1.42,1.3,1.4, 1.38,1.3,1.4,1.35],
    [1.55,1.45,1.5,1.35, 1.45,1.35,1.5,1.3, 1.2,1.35,1.15,1.3, 1.1,1.25,1.05,1.2, 1.15,1.3,1.1,1.25, 1.2,1.1,1.25,1.15,
     1.1,1.2,1.15,1.25],
    [1.9,1.8,1.75,1.7, 1.7,1.75,1.6,1.68, 1.55,1.65,1.5,1.6, 1.45,1.6,1.5,1.65, 1.55,1.65,1.5,1.6, 1.7,1.55,1.6,1.5],
    [1.3,1.2,1.35,1.25, 1.3,1.45,1.2,1.4, 1.35,1.2,1.4,1.3, 1.25,1.4,1.3,1.45, 1.35,1.25,1.4,1.3],
    [1.45,1.3,1.5,1.6, 1.4,1.55,1.35,1.5, 1.45,1.6,1.4,1.5, 1.55,1.4,1.5,1.45],
    [1.55,1.45,1.5,1.4, 1.45,1.5,1.4,1.48, 1.42,1.5,1.45,1.4],
    [1.45,1.5,1.4,1.48, 1.42,1.5,1.45,1.38],
    [1.4,1.35,1.45,1.4],
    [],
]
ER_TRAIN_BANDS = [
    [[0,0,0.5],[0.01,0.8,1.7],[0.02,1.2,1.9],[0.04,1.45,1.95],[0.09,1.45,2.05],[0.1,1.0,2.0]],
    [[0.1,0,0.3],[0.11,0.8,1.6],[0.13,1.2,1.8],[0.19,1.3,1.85],[0.2,1.0,1.8]],
    [[0.2,0,0.3],[0.21,0.9,1.6],[0.23,1.2,1.7],[0.3,1.15,1.75]],
    [[0.3,0,0.3],[0.31,0.8,1.8],[0.33,1.2,2.1],[0.39,1.3,2.2],[0.4,1.0,2.2]],
    [[0.4,0,0.3],[0.41,0.8,1.7],[0.43,1.3,1.9],[0.49,1.4,2.15],[0.5,1.1,2.1]],
    [[0.5,0,0.3],[0.51,0.6,1.5],[0.53,1.1,1.7],[0.6,1.15,1.75]],
    [[0.6,0,0.3],[0.61,0.3,1.2],[0.63,1.0,1.8],[0.66,1.2,1.9],[0.7,1.2,1.85]],
    [[0.7,0,0.3],[0.71,0.2,1.0],[0.73,0.9,1.7],[0.76,1.2,1.8],[0.8,1.25,1.85]],
    [[0.8,0,0.3],[0.81,0.2,1.0],[0.83,0.8,1.6],[0.86,1.3,2.0],[0.9,1.4,2.1]],
    [[0.9,0,0.3],[0.91,0.1,0.9],[0.93,0.9,1.7],[0.96,1.3,1.9],[1.0,1.35,1.9]],
    [[1.0,0,0.3],[1.01,0.1,0.9],[1.03,1.1,1.75],[1.1,1.15,1.75]],
    [[1.1,0,0.3],[1.11,0.1,0.8],[1.13,1.0,1.9],[1.16,1.4,2.0],[1.2,1.4,2.0]],
    [[1.2,0,0.3],[1.21,0.1,0.7],[1.23,0.8,1.8],[1.26,1.3,1.9],[1.3,1.3,1.9]],
    [[1.3,0,0.3],[1.31,0.1,0.7],[1.33,1.0,2.0],[1.36,1.6,2.25],[1.4,1.65,2.3]],
    [[1.4,0,0.3],[1.41,0.1,0.9],[1.43,1.2,2.1],[1.46,1.6,2.35],[1.5,1.2,2.4]],
    [[1.5,0,0.3],[1.51,0.1,0.8],[1.53,0.9,1.9],[1.56,1.4,2.1],[1.6,1.4,2.1]],
    [[1.6,0,0.3],[1.61,0.1,0.8],[1.63,1.0,1.9],[1.66,1.3,2.05],[1.7,1.3,2.0]],
    [[1.7,0,0.3],[1.71,0.1,0.8],[1.73,1.0,1.8],[1.76,1.25,1.85],[1.8,1.3,1.9]],
    [[1.8,0,0.3],[1.82,0.1,0.7],[1.84,0.8,1.7],[1.87,1.15,1.75],[1.9,1.2,1.8]],
    [[1.9,0,0.3],[1.92,0.1,0.6],[1.94,0.7,1.6],[1.97,1.0,1.75],[2.0,1.0,1.75]],
]
ER_TAIL_BANDS = [
    [[0.3,1.9],[0.2,1.7],[0.2,1.5],[0.0,1.3],[0.0,1.2],[0.0,1.2],[0.0,1.0],[0.0,0.9],[0.0,0.8],[0,0.8],[0,0.7],[0,0.7],[0,0.7],[0,0.6],[0,0.6],[0,0.5],[0,0.5],[0,0.5],[0,0.6]],
    [[0.8,1.8],[0.6,1.7],[0.3,1.4],[0.4,1.5],[0.3,1.4],[0.2,1.2],[0.1,1.1],[0.1,1.0],[0.1,1.0],[0.1,1.0],[0.1,1.0],[0.1,0.9],[0.1,0.9],[0.1,0.9],[0.1,0.9],[0.1,0.9],[0.1,0.9],[0.1,0.9]],
    [[1.0,1.7],[0.8,1.7],[0.5,1.6],[0.4,1.5],[0.4,1.5],[0.4,1.5],[0.4,1.5],[0.4,1.5],[0.3,1.4],[0.3,1.4],[0.3,1.4],[0.3,1.3],[0.3,1.3],[0.3,1.3],[0.3,1.3],[0.3,1.3],[0.3,1.3]],
    [[0.8,2.2],[0.9,2.2],[0.9,2.15],[0.8,2.1],[0.8,2.0],[0.7,1.9],[0.6,1.8],[0.5,1.7],[0.5,1.7],[0.5,1.7],[0.5,1.6],[0.5,1.6],[0.5,1.6],[0.5,1.6],[0.5,1.6],[0.5,1.6]],
    [[0.9,2.0],[0.8,1.9],[0.7,1.8],[0.6,1.7],[0.6,1.7],[0.5,1.6],[0.5,1.5],[0.4,1.5],[0.4,1.4],[0.4,1.4],[0.4,1.4],[0.4,1.3],[0.4,1.3],[0.4,1.3],[0.4,1.3]],
    [[0.9,1.8],[0.8,1.7],[0.7,1.6],[0.6,1.5],[0.6,1.5],[0.5,1.4],[0.5,1.4],[0.5,1.4],[0.4,1.4],[0.4,1.3],[0.4,1.3],[0.4,1.3],[0.4,1.3],[0.4,1.3]],
    [[0.9,1.9],[0.8,1.8],[0.8,1.7],[0.7,1.7],[0.7,1.6],[0.6,1.6],[0.6,1.5],[0.5,1.5],[0.5,1.4],[0.5,1.4],[0.5,1.4],[0.5,1.35],[0.5,1.35]],
    [[0.9,1.9],[0.8,1.8],[0.8,1.8],[0.7,1.7],[0.7,1.7],[0.6,1.6],[0.6,1.6],[0.5,1.5],[0.5,1.5],[0.5,1.45],[0.5,1.45],[0.5,1.4]],
    [[1.2,2.1],[1.1,2.0],[1.0,2.0],[1.0,1.9],[0.9,1.9],[0.9,1.8],[0.8,1.7],[0.8,1.7],[0.7,1.6],[0.7,1.6],[0.7,1.55]],
    [[1.2,2.0],[1.2,2.0],[1.1,1.95],[1.1,1.9],[1.0,1.9],[1.0,1.85],[1.0,1.85],[0.9,1.8],[0.9,1.8],[0.9,1.8]],
    [[1.1,1.8],[1.1,1.8],[0.9,1.7],[0.9,1.7],[0.8,1.65],[0.8,1.65],[0.8,1.6],[0.8,1.6],[0.8,1.6]],
    [[1.3,2.0],[1.2,1.95],[1.1,1.9],[1.0,1.85],[1.0,1.8],[1.0,1.8],[0.9,1.75],[0.9,1.75]],
    [[1.1,1.9],[1.0,1.85],[0.8,1.7],[0.7,1.6],[0.7,1.6],[0.7,1.6],[0.7,1.6]],
    [[1.4,2.3],[1.2,2.2],[1.0,2.1],[0.9,2.1],[0.9,2.1],[0.9,2.1]],
    [[0.6,2.2],[0.6,2.3],[0.5,2.2],[0.5,2.1],[0.5,2.1]],
    [[0.8,2.1],[0.8,2.1],[0.6,2.0],[0.6,2.0]],
    [[0.8,2.0],[0.8,2.0],[0.8,1.95]],
    [[0.9,1.95],[0.9,1.95]],
    [[0.8,1.9]],
    [],
]

# ---------------------------------------------------------------- PackNet
PN_LINES = [
    [[0,0.3],[0.005,0.8],[0.01,1.2],[0.015,1.5],[0.02,1.6],[0.025,1.9],[0.03,1.98],[0.04,2.0],[0.05,1.95],[0.06,1.88],[0.07,1.9],[0.08,1.92],[0.085,1.88],[0.09,1.2],[0.095,0.85],[0.1,0.95],[0.105,1.04],[1.98,1.04]],
    [[0.1,0],[0.105,0.5],[0.11,1.3],[0.12,1.65],[0.13,1.95],[0.14,2.02],[0.16,2.05],[0.18,2.1],[0.185,2.12],[0.19,1.7],[0.195,1.38],[0.2,1.6],[0.205,1.77],[1.98,1.77]],
    [[0.2,0],[0.205,0.5],[0.21,1.1],[0.22,1.55],[0.23,1.7],[0.24,1.78],[0.25,1.68],[0.27,1.68],[0.28,1.85],[0.29,1.7],[0.295,1.15],[0.3,1.3],[0.31,1.45],[1.98,1.45]],
    [[0.3,0],[0.305,0.4],[0.31,1.2],[0.32,1.9],[0.33,1.95],[0.35,2.0],[0.37,2.03],[0.39,2.03],[0.395,1.5],[0.4,1.0],[0.405,1.4],[0.41,1.55],[1.98,1.55]],
    [[0.4,0],[0.405,0.6],[0.41,1.4],[0.42,1.75],[0.44,1.9],[0.46,2.0],[0.48,2.08],[0.49,2.05],[0.495,1.15],[0.5,1.1],[0.51,1.4],[0.52,1.5],[1.98,1.5]],
    [[0.5,0],[0.505,0.4],[0.51,0.9],[0.52,1.3],[0.53,1.6],[0.54,1.83],[0.57,1.83],[0.59,1.85],[0.595,1.5],[0.6,1.45],[0.61,1.52],[1.98,1.52]],
    [[0.6,0],[0.605,0.3],[0.61,1.0],[0.62,1.6],[0.63,1.72],[0.65,1.85],[0.67,1.85],[0.68,1.8],[0.69,1.65],[0.7,1.8],[1.98,1.8]],
    [[0.7,0],[0.705,0.2],[0.71,0.9],[0.72,1.6],[0.73,1.8],[0.77,1.82],[0.79,1.8],[0.795,1.55],[0.8,1.6],[0.805,1.72],[1.98,1.72]],
    [[0.8,0],[0.805,0.3],[0.81,1.0],[0.82,1.3],[0.83,1.6],[0.84,1.85],[0.87,1.9],[0.88,1.92],[0.89,1.75],[0.895,1.62],[0.9,1.85],[0.91,1.9],[1.98,1.9]],
    [[0.9,0],[0.905,0.4],[0.91,1.2],[0.92,1.9],[0.93,2.1],[0.95,2.15],[0.97,2.22],[0.98,2.22],[0.99,1.7],[0.995,1.65],[1.0,1.8],[1.005,2.15],[1.98,2.25]],
    [[1.0,0],[1.005,0.1],[1.01,0.6],[1.02,1.2],[1.03,1.65],[1.04,1.72],[1.07,1.75],[1.09,1.78],[1.1,1.8],[1.98,1.8]],
    [[1.1,0],[1.105,0.1],[1.11,0.8],[1.12,1.6],[1.13,1.85],[1.15,1.9],[1.17,1.98],[1.18,2.03],[1.19,1.95],[1.2,1.93],[1.98,1.95]],
    [[1.2,0],[1.205,0.1],[1.21,0.8],[1.22,1.5],[1.23,1.85],[1.24,2.05],[1.26,2.15],[1.28,2.3],[1.29,2.28],[1.295,2.05],[1.3,2.2],[1.305,2.33],[1.98,2.33]],
    [[1.3,0],[1.305,0.1],[1.31,0.8],[1.32,1.4],[1.325,1.6],[1.33,1.65],[1.335,1.5],[1.34,1.6],[1.35,1.78],[1.37,1.85],[1.38,1.9],[1.4,1.88],[1.98,1.88]],
    [[1.4,0],[1.405,0.1],[1.41,0.6],[1.42,1.4],[1.425,1.85],[1.43,2.0],[1.44,2.05],[1.46,2.15],[1.47,2.17],[1.48,2.22],[1.5,2.2],[1.98,2.2]],
    [[1.5,0],[1.505,0.1],[1.51,0.7],[1.52,1.3],[1.53,1.5],[1.54,1.75],[1.56,1.85],[1.58,1.88],[1.98,1.88]],
    [[1.6,0],[1.605,0.1],[1.61,0.6],[1.62,1.4],[1.63,1.8],[1.64,2.0],[1.65,2.1],[2.0,2.1]],
    [[1.7,0],[1.705,0.1],[1.71,0.4],[1.72,1.1],[1.73,1.5],[1.74,1.75],[1.76,1.85],[1.78,1.88],[1.98,1.88]],
    [[1.8,0],[1.805,0.1],[1.81,0.6],[1.82,1.3],[1.83,1.55],[1.84,1.65],[1.86,1.7],[1.9,1.72],[1.92,1.68],[1.98,1.68]],
    [[1.9,0],[1.905,0.05],[1.91,0.2],[1.915,0.5],[1.92,0.8],[1.93,0.98],[1.94,1.04],[1.98,1.04]],
]
PN_BANDS = [
    [[0,0,0.6],[0.01,0.1,1.9],[0.02,1.0,2.3],[0.03,1.5,2.4],[0.05,1.6,2.45],[0.08,1.7,2.5],[0.09,0.8,2.4],[0.095,0.2,1.0],[0.1,0.25,1.8],[1.98,0.25,1.8]],
    [[0.1,0,0.3],[0.11,0.6,1.8],[0.13,1.7,2.1],[0.16,1.8,2.2],[0.18,1.85,2.3],[0.19,0.9,2.0],[0.2,1.1,1.9],[0.21,1.6,1.9],[1.98,1.6,1.9]],
    [[0.2,0,0.3],[0.21,0.5,1.6],[0.23,1.4,2.0],[0.27,1.3,2.2],[0.28,1.4,2.2],[0.29,0.7,2.1],[0.3,0.8,1.8],[0.31,1.2,1.7],[1.98,1.2,1.7]],
    [[0.3,0,0.3],[0.31,0.4,1.8],[0.32,1.5,2.4],[0.35,1.75,2.5],[0.39,1.8,2.5],[0.4,0.5,1.9],[0.41,1.2,1.8],[1.98,1.2,1.8]],
    [[0.4,0,0.3],[0.41,0.9,1.8],[0.43,1.5,2.3],[0.46,1.7,2.5],[0.48,1.75,2.55],[0.49,1.2,2.4],[0.5,0.4,1.8],[0.52,1.2,1.8],[1.98,1.2,1.8]],
    [[0.5,0,0.3],[0.51,0.4,1.8],[0.53,1.2,2.4],[0.56,1.5,2.45],[0.59,1.5,2.5],[0.6,1.2,1.9],[1.98,1.2,1.85]],
    [[0.6,0,0.5],[0.61,0.4,1.8],[0.63,1.4,2.2],[0.67,1.5,2.3],[0.7,1.45,2.15],[1.98,1.45,2.15]],
    [[0.7,0,0.3],[0.71,0.4,1.7],[0.73,1.4,2.2],[0.79,0.9,2.3],[0.8,1.3,2.1],[1.98,1.3,2.1]],
    [[0.8,0,0.3],[0.81,0.5,1.9],[0.83,1.2,2.3],[0.88,1.55,2.4],[0.9,1.5,2.4],[1.98,1.55,2.3]],
    [[0.9,0,0.3],[0.91,0.5,2.0],[0.92,1.5,2.6],[0.94,1.6,2.88],[1.0,1.0,2.88],[1.01,1.7,2.88],[1.98,1.75,2.88]],
    [[1.0,0,0.3],[1.01,0.1,1.0],[1.03,1.3,2.1],[1.06,1.5,2.1],[1.1,1.5,2.1],[1.98,1.5,2.1]],
    [[1.1,0,0.3],[1.11,0.5,1.6],[1.13,1.4,2.3],[1.17,1.5,2.5],[1.2,1.5,2.3],[1.98,1.5,2.3]],
    [[1.2,0,0.3],[1.21,0.3,1.2],[1.23,1.1,2.5],[1.27,1.5,2.75],[1.29,1.4,2.7],[1.3,1.9,2.8],[1.98,1.9,2.8]],
    [[1.3,0,0.3],[1.31,0.2,1.4],[1.33,0.9,2.2],[1.335,0.8,2.0],[1.35,1.3,2.35],[1.4,1.5,2.4],[1.98,1.5,2.4]],
    [[1.4,0,0.3],[1.41,0.2,1.6],[1.43,1.4,2.4],[1.47,1.7,2.7],[1.5,1.8,2.65],[1.98,1.8,2.65]],
    [[1.5,0,0.3],[1.51,0.2,1.2],[1.53,0.9,2.0],[1.56,1.4,2.3],[1.98,1.4,2.3]],
    [[1.6,0,0.3],[1.61,0.2,1.2],[1.63,1.2,2.3],[1.65,1.7,2.65],[2.0,1.7,2.65]],
    [[1.7,0,0.3],[1.71,0.1,1.0],[1.73,1.0,2.0],[1.76,1.5,2.2],[1.98,1.5,2.2]],
    [[1.8,0,0.3],[1.81,0.1,1.0],[1.83,1.0,2.0],[1.86,1.2,2.1],[1.98,1.3,2.1]],
    [[1.9,0,0.3],[1.91,0.05,0.6],[1.93,0.2,1.1],[1.95,0.25,1.2],[1.98,0.25,1.2]],
]

TAIL_STEP = 0.025
TAIL_BAND_STEP = 0.1
X_END = 2.0


# ---------------------------------------------------------------- seaborn hls palette
def hls_palette(n, h=0.01, l=0.6, s=0.65):
    out = []
    for k in range(n):
        hue = (k / n + h) % 1.0
        r, g, b = colorsys.hls_to_rgb(hue, l, s)
        out.append((int(round(r * 255)), int(round(g * 255)), int(round(b * 255))))
    return out


COLORS = hls_palette(20)

# ---------------------------------------------------------------- geometry
W, H = 1276, 1587
PLOT_L, PLOT_R = 59, 1251
TOP0, BOT0, PITCH = 49, 201.5, 266.3
Y_MAX = 2.9
TXT = "#262626"
FONT = "DejaVu Sans"

fig = go.Figure()


def add_task(k, color, line_pts, band_pts):
    xa = "x" if k == 0 else "x%d" % (k + 1)
    ya = "y" if k == 0 else "y%d" % (k + 1)
    r, g, b = color
    bx = [p[0] for p in band_pts]
    blo = [p[1] for p in band_pts]
    bhi = [p[2] for p in band_pts]
    fig.add_trace(go.Scatter(
        x=bx + bx[::-1], y=bhi + blo[::-1], fill="toself",
        fillcolor="rgba(%d,%d,%d,0.2)" % (r, g, b), line=dict(width=0),
        mode="lines", hoverinfo="skip", showlegend=False, xaxis=xa, yaxis=ya))
    fig.add_trace(go.Scatter(
        x=[p[0] for p in line_pts], y=[p[1] for p in line_pts], mode="lines",
        line=dict(color="rgb(%d,%d,%d)" % (r, g, b), width=2.2),
        hoverinfo="skip", showlegend=False, xaxis=xa, yaxis=ya))


def expand(train, tail, train_band, tail_band, i):
    end = 0.1 * (i + 1)
    line = list(train)
    for j, v in enumerate(tail):
        x = end + TAIL_STEP / 2 + TAIL_STEP * j
        if x <= X_END:
            line.append([x, v])
    band = list(train_band)
    for j, (lo, hi) in enumerate(tail_band):
        x = end + TAIL_BAND_STEP / 2 + TAIL_BAND_STEP * j
        band.append([x, lo, hi])
    if tail_band:
        band.append([X_END, tail_band[-1][0], tail_band[-1][1]])
    return line, band


PANELS = [
    [(FT_LINES[i], FT_BANDS[i]) for i in range(20)],
    [(EWC_LINES[i], EWC_BANDS[i]) for i in range(20)],
    [(MAS_LINES[i], MAS_BANDS[i]) for i in range(20)],
    [expand(AGEM_TRAIN[i], AGEM_TAIL[i], AGEM_TRAIN_BANDS[i], AGEM_TAIL_BANDS[i], i) for i in range(20)],
    [expand(ER_TRAIN[i], ER_TAIL[i], ER_TRAIN_BANDS[i], ER_TAIL_BANDS[i], i) for i in range(20)],
    [(PN_LINES[i], PN_BANDS[i]) for i in range(20)],
]

layout = dict(width=W, height=H, margin=dict(l=0, r=0, t=0, b=0, autoexpand=False),
              paper_bgcolor="white", plot_bgcolor="white", showlegend=False,
              font=dict(family=FONT, color=TXT))
annotations = []
shapes = []

for k, title in enumerate(PANEL_TITLES):
    for i in range(20):
        add_task(k, COLORS[i], PANELS[k][i][0], PANELS[k][i][1])
    top = TOP0 + PITCH * k
    bot = BOT0 + PITCH * k
    xn = "xaxis" if k == 0 else "xaxis%d" % (k + 1)
    yn = "yaxis" if k == 0 else "yaxis%d" % (k + 1)
    xr = "x" if k == 0 else "x%d" % (k + 1)
    yr = "y" if k == 0 else "y%d" % (k + 1)
    axis_common = dict(showline=True, linecolor="#cccccc", linewidth=2, mirror=True,
                       showgrid=False, zeroline=False, ticks="outside", ticklen=5,
                       tickwidth=1.2, tickcolor="#333333", automargin=False,
                       tickfont=dict(family=FONT, size=16, color=TXT))
    layout[xn] = dict(axis_common, domain=[PLOT_L / W, PLOT_R / W], range=[0, X_END],
                      tickvals=X_TICK_VALUES, ticktext=X_TICK_LABELS, anchor=yr,
                      ticklabelstandoff=2)
    layout[yn] = dict(axis_common, domain=[1 - bot / H, 1 - top / H], range=[0, Y_MAX],
                      tickvals=Y_TICK_VALUES, anchor=xr, ticklabelstandoff=6)
    for xb in TASK_BOUNDARIES:
        shapes.append(dict(type="line", xref=xr, yref=yr + " domain", x0=xb, x1=xb, y0=0, y1=1,
                           line=dict(color="rgba(90,90,90,0.8)", width=0.9, dash="3px,2px"),
                           layer="above"))
    for i, lab in enumerate(TASK_LABELS):
        r, g, b = COLORS[i]
        annotations.append(dict(text=lab, x=0.1 * i + 0.05, xref=xr, y=1, yref=yr + " domain",
                                yshift=13.5, yanchor="middle", xanchor="center", showarrow=False,
                                font=dict(family=FONT, size=14.5, color="rgb(%d,%d,%d)" % (r, g, b))))
    annotations.append(dict(text=title, x=0.5, xref=xr + " domain", y=1, yref=yr + " domain",
                            yshift=35, yanchor="middle", showarrow=False,
                            font=dict(family=FONT, size=16.5, color=TXT)))
    annotations.append(dict(text="1e9", x=1, xref=xr + " domain", xanchor="right", y=0,
                            yref=yr + " domain", yshift=-42, yanchor="middle", showarrow=False,
                            font=dict(family=FONT, size=16, color=TXT)))
    annotations.append(dict(text="Normalized Soup", x=18 / W, xref="paper", xanchor="center",
                            y=1 - (top + bot) / 2 / H, yref="paper", yanchor="middle",
                            textangle=-90, showarrow=False,
                            font=dict(family=FONT, size=17, color=TXT)))

annotations.append(dict(text="Environment Steps", x=(PLOT_L + PLOT_R) / 2 / W, xref="paper",
                        y=1 - 1575 / H, yref="paper", yanchor="middle", showarrow=False,
                        font=dict(family=FONT, size=17.5, color=TXT)))

layout["annotations"] = annotations
layout["shapes"] = shapes
fig.update_layout(**layout)
fig.write_html("out.html")
